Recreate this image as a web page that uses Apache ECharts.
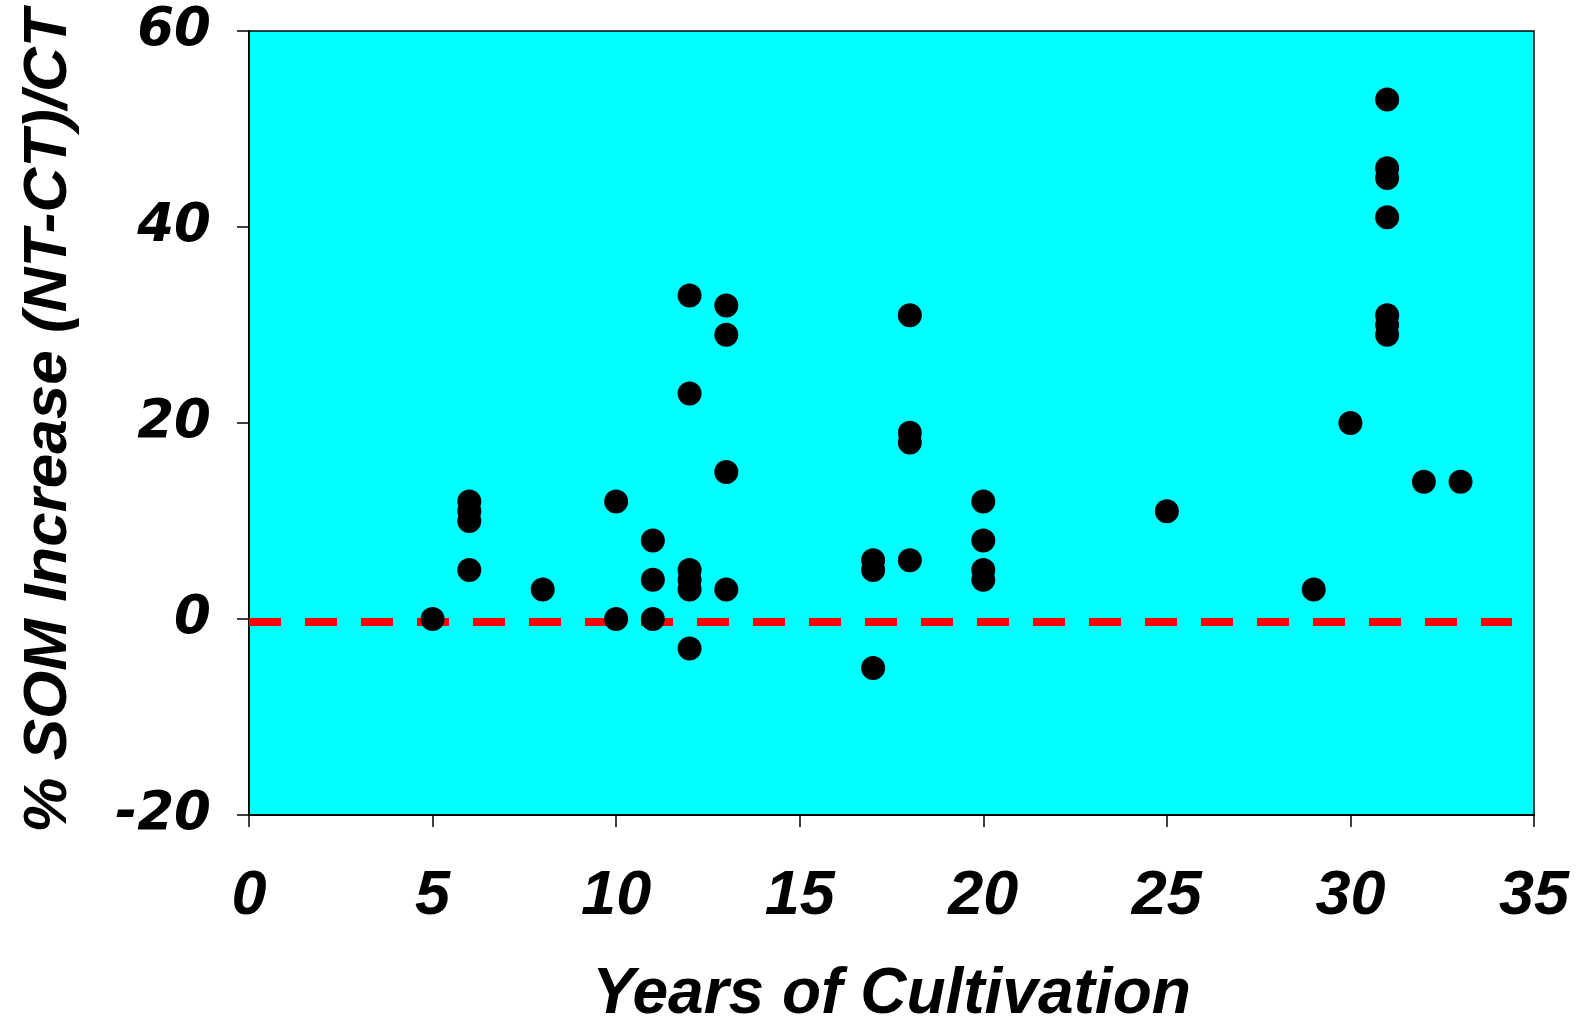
<!DOCTYPE html>
<html>
<head>
<meta charset="utf-8">
<script src="https://cdn.jsdelivr.net/npm/echarts@6/dist/echarts.min.js"></script>
<style>html,body{margin:0;padding:0;background:#fff}#c{width:1583px;height:1020px}</style>
</head>
<body>
<div id="c"></div>
<script>
const years = [5, 6, 6, 6, 6, 8, 10, 10, 11, 11, 11, 12, 12, 12, 12, 12, 12, 13, 13, 13, 13, 17, 17, 17, 18, 18, 18, 18, 20, 20, 20, 20, 25, 29, 30, 31, 31, 31, 31, 31, 31, 31, 32, 33];
const somIncrease = [0, 12, 11, 10, 5, 3, 12, 0, 8, 4, 0, 33, 23, 5, 4, 3, -3, 32, 29, 15, 3, 6, 5, -5, 31, 19, 18, 6, 12, 8, 5, 4, 11, 3, 20, 53, 46, 45, 41, 31, 30, 29, 14, 14];
const refLineX = [0, 34.4];
const refLineY = [-0.3, -0.3];
const xAxisName = 'Years of Cultivation';
const yAxisName = '% SOM Increase (NT-CT)/CT';

const chart = echarts.init(document.getElementById('c'), null, {renderer: 'canvas'});
chart.setOption({
  animation: false,
  grid: {left: 249, right: 49, top: 31, bottom: 205, outerBoundsMode: 'none', containLabel: false, show: true, backgroundColor: '#00FFFF', borderColor: '#000', borderWidth: 1.5},
  xAxis: {
    type: 'value', min: 0, max: 35, interval: 5,
    name: xAxisName, nameLocation: 'middle', nameGap: 148,
    nameTextStyle: {fontFamily: 'Liberation Sans', fontWeight: 'bold', fontStyle: 'italic', fontSize: 64, color: '#000'},
    axisLine: {onZero: false, lineStyle: {color: '#000', width: 2}},
    axisTick: {show: true, inside: false, length: 12, lineStyle: {color: '#000', width: 1.5}},
    axisLabel: {margin: 50, fontFamily: 'Liberation Sans', fontWeight: 'bold', fontStyle: 'italic', fontSize: 63, color: '#000'},
    splitLine: {show: false}
  },
  yAxis: {
    type: 'value', min: -20, max: 60, interval: 20,
    name: yAxisName, nameLocation: 'middle', nameGap: 169, nameRotate: 90,
    nameTextStyle: {fontFamily: 'Liberation Sans', fontWeight: 'bold', fontStyle: 'italic', fontSize: 62, color: '#000', padding: [0, 0, 0, 4]},
    axisLine: {onZero: false, lineStyle: {color: '#000', width: 2}},
    axisTick: {show: true, inside: false, length: 12, lineStyle: {color: '#000', width: 1.5}},
    axisLabel: {margin: 38, fontFamily: 'DejaVu Sans', fontWeight: 'bold', fontStyle: 'italic', fontSize: 53, color: '#000'},
    splitLine: {show: false}
  },
  series: [
    {
      type: 'line',
      data: refLineX.map((x, i) => [x, refLineY[i]]),
      symbol: 'none',
      lineStyle: {color: '#FF0000', width: 8, type: [32, 24]},
      z: 2
    },
    {
      type: 'scatter',
      data: years.map((x, i) => [x, somIncrease[i]]),
      symbol: 'circle',
      symbolSize: 24,
      itemStyle: {color: '#000', opacity: 1},
      z: 3
    }
  ]
});
</script>
</body>
</html>
